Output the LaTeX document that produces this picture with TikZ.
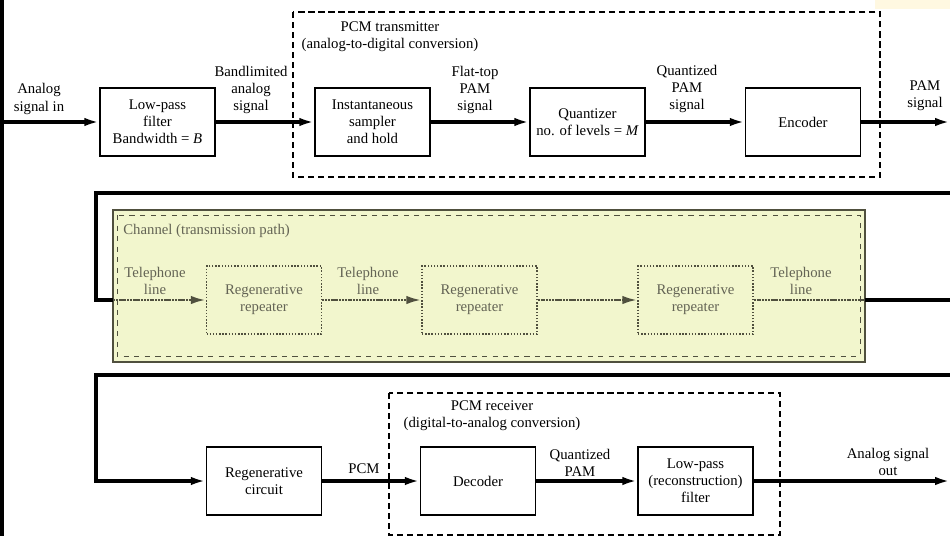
\documentclass[tikz,border=0pt]{standalone}
\usepackage{fontspec}
\setmainfont{Liberation Serif}
\usetikzlibrary{arrows.meta}
\definecolor{chanfill}{RGB}{242,246,205}
\definecolor{chanink}{RGB}{80,80,62}
\definecolor{chantext}{RGB}{100,100,85}
\definecolor{cornerfill}{RGB}{255,248,225}
\tikzset{
  blk/.style={draw,line width=0.8pt,minimum width=23mm,minimum height=13.6mm,align=center,inner sep=1pt},
  lbl/.style={align=center,inner sep=0pt},
  pipe/.style={line width=2pt},
  flow/.style={-{Latex[length=3mm,width=1.7mm]}},
  grp/.style={line width=0.8pt,dash pattern=on 3.5pt off 2.2pt},
  rep/.style={blk,draw=chanink,densely dotted,text=chantext},
  tele/.style={draw=chanink,line width=1.5pt,dash pattern=on 1.2pt off 0.4pt},
}

\begin{document}
\begin{tikzpicture}[x=0.2mm,y=-0.2mm,font=\fontsize{8.4}{9.8}\selectfont]
            \useasboundingbox (0,0) rectangle (950,536);
            \fill[cornerfill] (875,0) rectangle (950,9);
            \draw[line width=2pt] (2,0) -- (2,536);

            % dashed groups and channel
            \draw[grp] (293,12) rectangle (880,177);
            \node[lbl] (txtitle) at (390,37) {PCM transmitter\\(analog-to-digital conversion)};
            \draw[grp] (389,393) rectangle (780,535);
            \node[lbl] (rxtitle) at (492,416) {PCM receiver\\(digital-to-analog conversion)};
            \draw[draw=chanink,fill=chanfill,line width=0.6pt] (113,210) rectangle (865,362);
            \draw[draw=chanink,dashed,line width=0.5pt] (117,215) rectangle (860,356);
            \node[lbl,anchor=west,text=chantext] (chtitle) at (123,231) {Channel (transmission path)};

            % row 1
            \coordinate (ain) at (0,122);
            \node[blk] (lpf) at (157.5,122) {Low-pass\\filter\\Bandwidth = \textit{B}};
            \node[blk] (sah) at (372.5,122) {Instantaneous\\sampler\\and hold};
            \node[blk] (quant) at (587.5,122) {Quantizer\\no. of levels = \textit{M}};
            \node[blk] (enc) at (803,122) {Encoder};
            \coordinate (pamout) at (950,122);
            \draw[pipe,flow] (ain) -- (lpf);
            \draw[pipe,flow] (lpf) -- (sah);
            \draw[pipe,flow] (sah) -- (quant);
            \draw[pipe,flow] (quant) -- (enc);
            \draw[pipe,flow] (enc) -- (pamout);
            \node[lbl] (lblin) at (39,99) {Analog\\signal in};
            \node[lbl] (lblband) at (251,90) {Bandlimited\\analog\\signal};
            \node[lbl] (lblflat) at (475,90) {Flat-top\\PAM\\signal};
            \node[lbl] (lblquant) at (687,89) {Quantized\\PAM\\signal};
            \node[lbl] (lblpam) at (925,96) {PAM\\signal};

            % row 2
            \coordinate (r2in) at (950,193);
            \coordinate (bend2) at (96,193);
            \coordinate (chin) at (113,300);
            \coordinate (chout) at (865,300);
            \coordinate (r2out) at (950,300);
            \node[rep] (rep1) at (264,300) {Regenerative\\repeater};
            \node[rep] (rep2) at (479.5,300) {Regenerative\\repeater};
            \node[rep] (rep3) at (695.5,300) {Regenerative\\repeater};
            \draw[pipe] (r2in) -- (bend2) |- (chin);
            \draw[tele,flow] (chin) -- (rep1);
            \draw[tele,flow] (rep1) -- (rep2);
            \draw[tele,flow] (rep2) -- (rep3);
            \draw[tele] (rep3) -- (chout);
            \draw[pipe] (chout) -- (r2out);
            \node[lbl,text=chantext] (tel1) at (155,281) {Telephone\\line};
            \node[lbl,text=chantext] (tel2) at (368,281) {Telephone\\line};
            \node[lbl,text=chantext] (tel3) at (801,281) {Telephone\\line};

            % row 3
            \coordinate (r3in) at (950,375);
            \coordinate (bend3) at (96,375);
            \node[blk] (regen) at (264,481) {Regenerative\\circuit};
            \node[blk] (dec) at (478,481) {Decoder};
            \node[blk] (rlpf) at (695.5,481) {Low-pass\\(reconstruction)\\filter};
            \coordinate (aout) at (950,481);
            \draw[pipe,flow] (r3in) -- (bend3) |- (regen);
            \draw[pipe,flow] (regen) -- (dec);
            \draw[pipe,flow] (dec) -- (rlpf);
            \draw[pipe,flow] (rlpf) -- (aout);
            \node[lbl] (lblpcm) at (364,469) {PCM};
            \node[lbl] (lblqpam) at (580,463) {Quantized\\PAM};
            \node[lbl] (lblout) at (888,462) {Analog signal\\out};
\end{tikzpicture}
\end{document}
